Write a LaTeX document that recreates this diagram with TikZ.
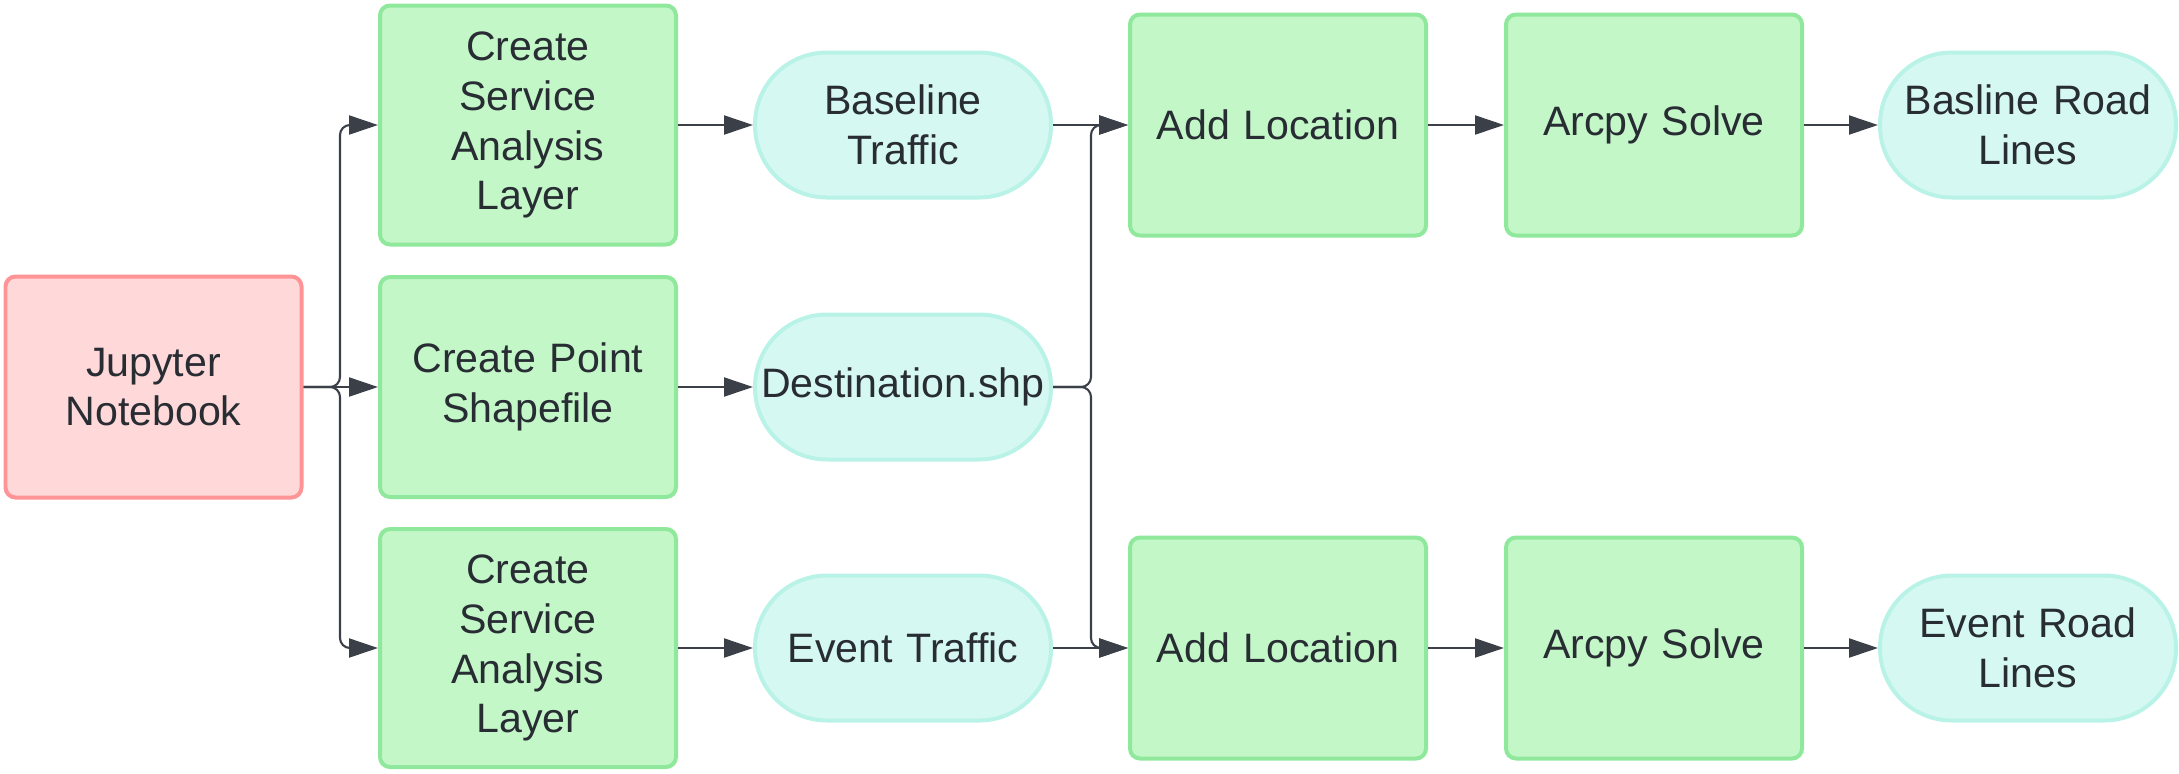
\documentclass[tikz,border=0pt]{standalone}
\usepackage{fontspec}
\setmainfont{Liberation Sans}
\usetikzlibrary{arrows.meta}
\definecolor{jupfill}{HTML}{FFD8D9}
\definecolor{jupline}{HTML}{FF9496}
\definecolor{stepfill}{HTML}{C3F7C8}
\definecolor{stepline}{HTML}{8FE89B}
\definecolor{datafill}{HTML}{D6F8F2}
\definecolor{dataline}{HTML}{B9F2E7}
\definecolor{ink}{HTML}{282C33}
\definecolor{wire}{HTML}{3A3F48}
\begin{document}
\begin{tikzpicture}[yscale=-1,
		box/.style={rectangle, rounded corners=0.1cm, line width=0.04cm, minimum width=2.96cm,
			text width=2.9cm, align=center, inner sep=0pt, text=ink,
			font=\fontsize{11.7}{14.2}\selectfont},
		task/.style={box, draw=stepline, fill=stepfill},
		data/.style={box, draw=dataline, fill=datafill, rounded corners=0.72cm, minimum height=1.45cm},
		flow/.style={draw=wire, line width=0.6pt, -{Triangle[length=0.29cm,width=0.19cm]}, rounded corners=0.1cm}]
			\useasboundingbox (0,0) rectangle (21.79,7.73);
			% start
			\node[box, draw=jupline, fill=jupfill, minimum height=2.21cm] (jup) at (1.535,3.87) {Jupyter\\Notebook};
			% first steps
			\node[task, minimum height=2.39cm] (sal1) at (5.28,1.25) {Create\\Service\\Analysis\\Layer};
			\node[task, minimum height=2.20cm] (cps) at (5.28,3.87) {Create Point\\Shapefile};
			\node[task, minimum height=2.38cm] (sal2) at (5.28,6.48) {Create\\Service\\Analysis\\Layer};
			\node[data] (base) at (9.03,1.25) {Baseline\\Traffic};
			\node[data] (dest) at (9.03,3.87) {Destination.shp};
			\node[data] (event) at (9.03,6.48) {Event Traffic};
			% solve
			\node[task, minimum height=2.21cm] (add1) at (12.78,1.25) {Add Location};
			\node[task, minimum height=2.21cm] (add2) at (12.78,6.48) {Add Location};
			\node[task, minimum height=2.21cm] (solve1) at (16.54,1.25) {Arcpy Solve};
			\node[task, minimum height=2.21cm] (solve2) at (16.54,6.48) {Arcpy Solve};
			\node[data] (road1) at (20.28,1.25) {Basline Road\\Lines};
			\node[data] (road2) at (20.28,6.48) {Event Road\\Lines};
			\coordinate (split) at (3.40,3.87);
			\coordinate (merge) at (10.91,3.87);
			\draw[flow] (jup.east) -- (split) |- (sal1.west);
			\draw[flow] (jup.east) -- (cps.west);
			\draw[flow] (jup.east) -- (split) |- (sal2.west);
			\draw[flow] (sal1) -- (base);
			\draw[flow] (cps) -- (dest);
			\draw[flow] (sal2) -- (event);
			\draw[flow] (base) -- (add1);
			\draw[flow] (event) -- (add2);
			\draw[flow] (dest.east) -- (merge) |- (add1.west);
			\draw[flow] (dest.east) -- (merge) |- (add2.west);
			\draw[flow] (add1) -- (solve1);
			\draw[flow] (add2) -- (solve2);
			\draw[flow] (solve1) -- (road1);
			\draw[flow] (solve2) -- (road2);
		\end{tikzpicture}
\end{document}
